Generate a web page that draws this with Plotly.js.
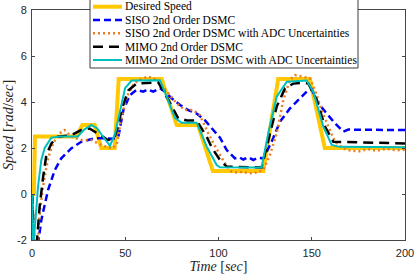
<!DOCTYPE html>
<html>
<head>
<meta charset="utf-8">
<script src="https://cdn.plot.ly/plotly-3.0.1.min.js"></script>
<style>html,body{margin:0;padding:0;background:#fff}#chart{width:415px;height:274px}</style>
</head>
<body>
<div id="chart"></div>
<script>
// ---- data ----
const seriesNames = [
  'Desired Speed',
  'SISO 2nd Order DSMC',
  'SISO 2nd Order DSMC with ADC Uncertainties',
  'MIMO 2nd Order DSMC',
  'MIMO 2nd Order DSMC with ADC Uncertainties'
];

const desiredT = [0, 1, 1.6, 24, 27, 33.6, 37.2, 44.3, 46.5, 69.5, 77.6, 89, 97, 124, 132, 149, 157, 200];
const desiredY = [0, 0, 2.5, 2.5, 3.0, 3.0, 2.0, 2.0, 5.0, 5.0, 3.0, 3.0, 1.0, 1.0, 5.0, 5.0, 2.0, 2.0];

const sisoT = [0, 1, 3, 5, 8.6, 12.2, 15.7, 21, 26.4, 30, 33.6, 39, 43.4, 46.3, 49, 52.5, 56, 59.7, 62, 65, 68.6, 71.3, 74.9, 79.4, 83.8, 88.3, 92.8, 97.2, 100.8, 104.4, 108.8, 111, 113.3, 116, 118.7, 121, 124, 128.5, 133, 138.3, 143.7, 147.3, 150, 153.5, 158, 162.5, 166.9, 169.6, 200];
const sisoY = [0, -2.5, -2.3, -1.13, 0.17, 1.04, 1.55, 1.98, 2.27, 2.35, 2.42, 2.42, 2.4, 2.49, 3.65, 4.3, 4.52, 4.45, 4.55, 4.45, 4.6, 4.45, 4.16, 3.87, 3.65, 3.5, 3.2, 2.78, 2.45, 1.91, 1.55, 1.6, 1.5, 1.6, 1.48, 1.58, 1.55, 2.27, 3.15, 3.72, 4.16, 4.45, 4.55, 3.94, 3.5, 3.07, 2.71, 2.8, 2.78];

const sisoAdcT = [0, 1.5, 3, 4.1, 5.9, 8.6, 11.3, 14.8, 17.5, 21.1, 26.4, 31.8, 37.2, 42.5, 45.4, 48.1, 50.8, 54.3, 57, 59.7, 62, 65, 68.6, 73.1, 77.6, 82, 86.5, 90, 94.5, 99, 103.5, 107, 110, 113.3, 116, 118.7, 121, 124, 127.6, 131.2, 134.8, 138.3, 141, 145.5, 149, 151.7, 155.3, 158.9, 162.5, 166.9, 170, 175, 180, 185, 190, 195, 200];
const sisoAdcY = [0, -2.5, -2.2, -0.83, 0.32, 1.55, 2.2, 2.64, 2.78, 2.49, 2.35, 2.35, 2.13, 1.98, 2.13, 3.36, 4.23, 4.74, 4.95, 5.03, 5.1, 5.05, 4.81, 4.38, 3.94, 3.65, 3.65, 3.43, 2.64, 1.95, 1.33, 0.97, 0.93, 0.97, 0.9, 0.9, 0.95, 1.04, 1.7, 2.64, 4.1, 4.96, 5.17, 5.1, 5.03, 4.52, 3.65, 2.93, 2.27, 1.98, 1.9, 1.85, 1.95, 1.88, 1.97, 1.9, 1.92];

const mimoT = [0, 1.5, 2.5, 4.1, 5.9, 7.7, 10.4, 13.9, 21, 26.4, 30.9, 36.3, 40.7, 44, 46, 48, 51.6, 56.1, 67.7, 73, 78.4, 83, 88.3, 93.7, 96.5, 100.8, 104.4, 123.1, 126.7, 131.2, 135.7, 140.1, 145.5, 148.2, 152.6, 157.1, 161.6, 200];
const mimoY = [0, -2.5, -2.2, -0.55, 0.7, 1.7, 2.2, 2.49, 2.56, 2.78, 2.85, 2.56, 2.35, 2.4, 2.9, 3.65, 4.5, 4.8, 4.85, 4.1, 3.29, 3.2, 3.2, 2.49, 2.0, 1.48, 1.19, 1.15, 2.35, 3.8, 4.6, 4.8, 4.84, 4.8, 4.1, 2.93, 2.27, 2.2];

const mimoAdcT = [0, 0.7, 2, 3.2, 5, 6.8, 10.4, 15, 24.6, 28, 31.8, 35, 38, 41.8, 44.5, 47.2, 49.9, 53.4, 68.6, 72.2, 76.7, 80.3, 88.3, 93.7, 99, 100.8, 123.1, 126.7, 131.2, 136.6, 147.3, 150.8, 156.2, 160.7, 165, 200];
const mimoAdcY = [0, -2.2, -1.0, 0.3, 1.48, 2.0, 2.45, 2.5, 2.5, 2.8, 3.0, 2.85, 2.5, 2.1, 2.6, 3.65, 4.6, 4.93, 4.95, 4.23, 3.3, 3.1, 3.1, 2.06, 1.26, 1.16, 1.15, 2.65, 4.23, 4.88, 4.93, 4.45, 2.93, 2.13, 2.05, 2.03];

const xTicks = [0, 50, 100, 150, 200];
const yTicks = [-2, 0, 2, 4, 6, 8];

// ---- styles ----
const styles = [
  {color: 'rgb(255,200,0)', width: 4, dash: 'solid'},
  {color: 'rgb(0,0,255)', width: 2.5, dash: '7px,4px'},
  {color: 'rgb(235,125,35)', width: 2.5, dash: '2px,3px'},
  {color: 'rgb(0,0,0)', width: 2.5, dash: '10px,6px'},
  {color: 'rgb(0,190,190)', width: 2, dash: 'solid'}
];
const xs = [desiredT, sisoT, sisoAdcT, mimoT, mimoAdcT];
const ys = [desiredY, sisoY, sisoAdcY, mimoY, mimoAdcY];

const traces = xs.map((x, i) => ({
  x: x, y: ys[i], type: 'scatter', mode: 'lines', name: seriesNames[i],
  line: {color: styles[i].color, width: styles[i].width, dash: styles[i].dash},
  hoverinfo: 'skip'
}));

// custom legend (pixel geometry -> paper coords)
const W = 415, H = 274, ML = 32, MR = 10, MT = 10, MB = 34;
const pw = W - ML - MR, ph = H - MT - MB;
const px = v => (v - ML) / pw;
const py = v => (H - MB - v) / ph;
const shapes = [{
  type: 'rect', xref: 'paper', yref: 'paper',
  x0: px(90), x1: px(358), y0: py(68), y1: py(-1),
  line: {color: 'rgb(60,60,60)', width: 1}, fillcolor: 'white', layer: 'above'
}];
const annotations = [];
const rowY = [6.7, 20, 33.3, 46.7, 60];
seriesNames.forEach((n, i) => {
  shapes.push({
    type: 'line', xref: 'paper', yref: 'paper',
    x0: px(93), x1: px(122), y0: py(rowY[i]), y1: py(rowY[i]),
    line: {color: styles[i].color, width: styles[i].width, dash: styles[i].dash}, layer: 'above'
  });
  annotations.push({
    xref: 'paper', yref: 'paper', x: px(123), y: py(rowY[i]),
    xanchor: 'left', yanchor: 'middle', showarrow: false, text: n,
    font: {family: 'Liberation Serif, serif', size: 11.5, color: '#000'}
  });
});

const axisCommon = {
  showline: true, mirror: 'ticks', linecolor: 'rgb(70,70,70)', linewidth: 1,
  ticks: 'inside', ticklen: 3, tickcolor: 'rgb(70,70,70)', showgrid: false, zeroline: false,
  tickfont: {family: 'Liberation Sans, Arial, sans-serif', size: 11, color: '#262626'},
  automargin: false
};

const layout = {
  width: W, height: H,
  margin: {l: ML, r: MR, t: MT, b: MB},
  paper_bgcolor: 'white', plot_bgcolor: 'white',
  showlegend: false,
  xaxis: Object.assign({}, axisCommon, {
    range: [0, 200], tickvals: xTicks, ticktext: xTicks.map(String),
    ticklabelstandoff: 3,
    title: {text: '<i>Time</i> [<i>sec</i>]', standoff: 3,
      font: {family: 'Liberation Serif, serif', size: 14, color: '#262626'}}
  }),
  yaxis: Object.assign({}, axisCommon, {
    range: [-2, 8], tickvals: yTicks, ticktext: yTicks.map(String),
    ticklabelstandoff: 2,
    title: {text: '<i>Speed</i> [<i>rad</i>/<i>sec</i>]', standoff: 0,
      font: {family: 'Liberation Serif, serif', size: 14.5, color: '#262626'}}
  }),
  shapes: shapes,
  annotations: annotations
};

Plotly.newPlot('chart', traces, layout, {staticPlot: true, displayModeBar: false});
</script>
</body>
</html>
